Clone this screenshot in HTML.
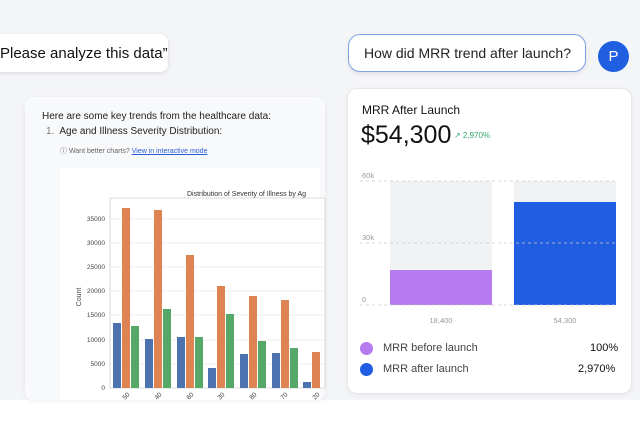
<!DOCTYPE html>
<html><head><style>
body{margin:0;width:640px;height:427px;overflow:hidden;background:#fff;font-family:"Liberation Sans",sans-serif;position:relative}
.bg{position:absolute;left:0;top:0;width:640px;height:400px;background:#f4f5f7}
.abs{position:absolute}
</style></head><body>
<div class="bg"></div>
<div class="abs" style="left:-10px;top:34px;width:178px;height:38px;background:#fff;border-radius:8px;box-shadow:0 1px 4px rgba(0,0,0,.12)"></div>
<div class="abs" style="left:0;top:45px;font-size:15px;color:#111">Please analyze this data”</div>
<div class="abs" style="left:25px;top:97px;width:300px;height:303px;background:#f8f9fb;border-radius:8px;box-shadow:0 1px 6px rgba(0,0,0,.06)"></div>
<div class="abs" style="left:42px;top:111px;font-size:10px;color:#222">Here are some key trends from the healthcare data:</div>
<div class="abs" style="left:46px;top:126px;font-size:10px;color:#222"><span style="color:#777">1.</span>&nbsp; Age and Illness Severity Distribution:</div>
<div class="abs" style="left:60px;top:146px;font-size:7px;color:#666">ⓘ Want better charts? <span style="color:#2a5bd7;text-decoration:underline">View in interactive mode</span></div>
<div class="abs" style="left:60px;top:168px;width:260px;height:232px;background:#fff"></div>
<svg class="abs" style="left:0;top:0" width="330" height="400">
<text x="187" y="196" font-size="7" fill="#333" font-family="Liberation Sans">Distribution of Severity of Illness by Ag</text>
<rect x="110" y="198" width="215" height="190" fill="#fff" stroke="#ccc" stroke-width=".7"/>
<g stroke="#e6e6e6" stroke-width=".7">
<line x1="110" x2="325" y1="219" y2="219"/><line x1="110" x2="325" y1="243" y2="243"/><line x1="110" x2="325" y1="267" y2="267"/><line x1="110" x2="325" y1="291" y2="291"/><line x1="110" x2="325" y1="315" y2="315"/><line x1="110" x2="325" y1="340" y2="340"/><line x1="110" x2="325" y1="364" y2="364"/></g>
<g font-size="6.5" fill="#444" text-anchor="end" font-family="Liberation Sans">
<text x="105" y="221">35000</text><text x="105" y="245">30000</text><text x="105" y="269">25000</text><text x="105" y="293">20000</text><text x="105" y="317">15000</text><text x="105" y="342">10000</text><text x="105" y="366">5000</text><text x="105" y="390">0</text></g>
<text transform="translate(81,297) rotate(-90)" font-size="7" fill="#444" text-anchor="middle">Count</text>
<g>
<rect x="113" y="323" width="8" height="65" fill="#4c72b0"/><rect x="122" y="208" width="8" height="180" fill="#dd8452"/><rect x="131" y="326" width="8" height="62" fill="#55a868"/>
<rect x="145" y="339" width="8" height="49" fill="#4c72b0"/><rect x="154" y="210" width="8" height="178" fill="#dd8452"/><rect x="163" y="309" width="8" height="79" fill="#55a868"/>
<rect x="177" y="337" width="8" height="51" fill="#4c72b0"/><rect x="186" y="255" width="8" height="133" fill="#dd8452"/><rect x="195" y="337" width="8" height="51" fill="#55a868"/>
<rect x="208" y="368" width="8" height="20" fill="#4c72b0"/><rect x="217" y="286" width="8" height="102" fill="#dd8452"/><rect x="226" y="314" width="8" height="74" fill="#55a868"/>
<rect x="240" y="354" width="8" height="34" fill="#4c72b0"/><rect x="249" y="296" width="8" height="92" fill="#dd8452"/><rect x="258" y="341" width="8" height="47" fill="#55a868"/>
<rect x="272" y="353" width="8" height="35" fill="#4c72b0"/><rect x="281" y="300" width="8" height="88" fill="#dd8452"/><rect x="290" y="348" width="8" height="40" fill="#55a868"/>
<rect x="303" y="382" width="8" height="6" fill="#4c72b0"/><rect x="312" y="352" width="8" height="36" fill="#dd8452"/>
</g>
<g font-size="6.5" fill="#444" font-family="Liberation Sans">
<text transform="translate(125,400) rotate(-45)">50</text><text transform="translate(157,400) rotate(-45)">40</text><text transform="translate(189,400) rotate(-45)">60</text><text transform="translate(220,400) rotate(-45)">30</text><text transform="translate(252,400) rotate(-45)">80</text><text transform="translate(283,400) rotate(-45)">70</text><text transform="translate(315,400) rotate(-45)">20</text></g>
</svg>
<div class="abs" style="left:348px;top:34px;width:236px;height:36px;background:#fff;border:1.5px solid #7ea2e6;border-radius:12px;box-shadow:0 2px 5px rgba(0,0,0,.08)"></div>
<div class="abs" style="left:364px;top:45px;font-size:14px;color:#222">How did MRR trend after launch?</div>
<div class="abs" style="left:598px;top:41px;width:31px;height:31px;border-radius:50%;background:#1f5fe0;color:#fff;font-size:15px;text-align:center;line-height:31px">P</div>
<div class="abs" style="left:347px;top:88px;width:283px;height:304px;background:#fff;border-radius:10px;border:1px solid #e6e7ea;box-shadow:0 1px 5px rgba(0,0,0,.06)"></div>
<div class="abs" style="left:362px;top:103px;font-size:12px;color:#111">MRR After Launch</div>
<div class="abs" style="left:361px;top:121px;font-size:25px;color:#111">$54,300</div>
<div class="abs" style="left:454px;top:131px;font-size:8px;color:#2fa86b">↗ 2,970%</div>
<svg class="abs" style="left:330px;top:160px" width="300" height="170">
<rect x="60" y="21" width="102" height="124" fill="#f0f2f4"/><rect x="184" y="21" width="102" height="124" fill="#f0f2f4"/>
<rect x="60" y="110" width="102" height="35" fill="#b57bef"/><rect x="184" y="42" width="102" height="103" fill="#215de0"/>
<g stroke="#ccc" stroke-dasharray="3,3" stroke-width=".8"><line x1="30" x2="288" y1="21" y2="21"/><line x1="30" x2="288" y1="83" y2="83"/><line x1="30" x2="288" y1="145" y2="145"/></g>
<g font-size="7.5" fill="#999" font-family="Liberation Sans"><text x="32" y="18">60k</text><text x="32" y="80">30k</text><text x="32" y="142">0</text>
<text x="111" y="163" text-anchor="middle">18,400</text><text x="235" y="163" text-anchor="middle">54,300</text></g>
</svg>
<div class="abs" style="left:360px;top:342px;width:13px;height:13px;border-radius:50%;background:#b57bef"></div>
<div class="abs" style="left:383px;top:342px;font-size:11px;color:#444">MRR before launch</div>
<div class="abs" style="left:590px;top:342px;font-size:11px;color:#111">100%</div>
<div class="abs" style="left:360px;top:363px;width:13px;height:13px;border-radius:50%;background:#215de0"></div>
<div class="abs" style="left:383px;top:363px;font-size:11px;color:#444">MRR after launch</div>
<div class="abs" style="left:578px;top:363px;font-size:11px;color:#111">2,970%</div>
</body></html>
